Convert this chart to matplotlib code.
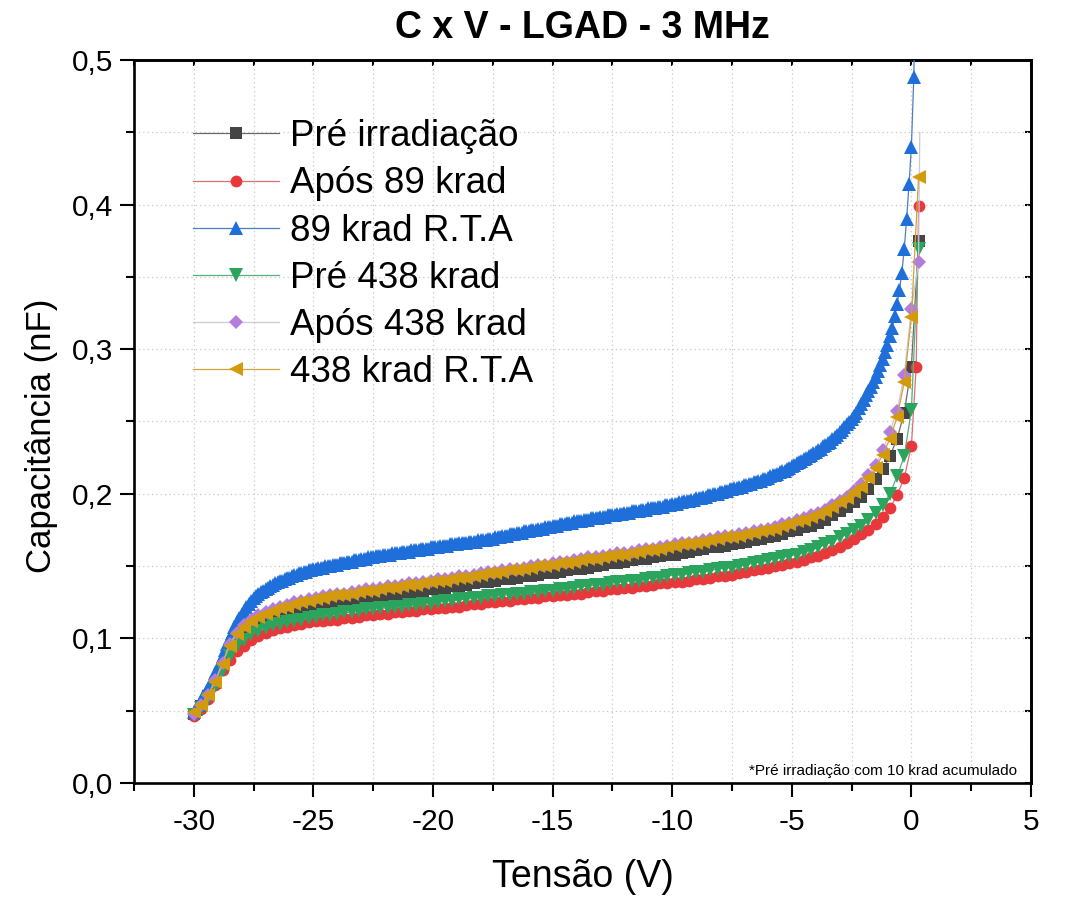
import numpy as np
import matplotlib
matplotlib.use("Agg")
import matplotlib.pyplot as plt
from matplotlib.ticker import MultipleLocator

plt.rcParams['font.family'] = ['Liberation Sans', 'DejaVu Sans']
plt.rcParams['axes.unicode_minus'] = False

# ---------------- data (capacitance in pF, i.e. thousandths of nF) ----------------
# common sweep for most series: -30 V .. 0 V in 0.3 V steps (101 points)
sweep_v = np.linspace(-30.0, 0.0, 101)

pre_irr_pF = [48, 53, 60, 69, 80, 92, 100, 105, 109, 111,
              113, 115, 117, 118, 119, 120, 121, 122, 123, 124,
              125, 125, 126, 127, 128, 128, 129, 130, 130, 131,
              132, 132, 133, 134, 134, 135, 136, 136, 137, 138,
              139, 139, 140, 141, 141, 142, 143, 143, 144, 145,
              145, 146, 147, 148, 148, 149, 150, 151, 152, 152,
              153, 154, 155, 155, 156, 157, 158, 158, 159, 160,
              161, 162, 163, 163, 164, 165, 166, 167, 168, 169,
              170, 171, 172, 174, 175, 177, 178, 180, 182, 185,
              188, 191, 194, 198, 203, 210, 217, 226, 238, 256,
              288, 375]
pre_irr_extra_v = [0.3]

apos89_pF = [46, 51, 58, 68, 78, 85, 91, 95, 99, 102,
             104, 106, 107, 108, 109, 110, 111, 112, 112, 113,
             113, 114, 114, 115, 116, 116, 117, 117, 118, 118,
             119, 119, 120, 120, 121, 121, 122, 122, 123, 124,
             124, 125, 125, 126, 126, 127, 127, 128, 128, 129,
             129, 130, 130, 131, 131, 132, 133, 133, 134, 134,
             135, 135, 136, 136, 137, 138, 138, 139, 139, 140,
             141, 141, 142, 143, 143, 144, 145, 146, 147, 148,
             149, 150, 151, 152, 153, 154, 156, 157, 159, 161,
             163, 166, 169, 172, 175, 179, 184, 190, 199, 211,
             233, 288, 399]
apos89_extra_v = [0.2, 0.3]

pre438_pF = [47, 52, 58, 67, 78, 88, 95, 99, 103, 105,
             107, 109, 110, 111, 112, 113, 114, 115, 116, 116,
             117, 118, 118, 119, 120, 120, 121, 121, 122, 122,
             123, 123, 124, 124, 125, 126, 126, 127, 127, 128,
             128, 129, 129, 130, 130, 131, 131, 132, 132, 133,
             133, 134, 134, 135, 136, 136, 137, 137, 138, 139,
             139, 140, 140, 141, 142, 142, 143, 144, 144, 145,
             146, 146, 147, 148, 149, 149, 150, 151, 152, 153,
             154, 155, 156, 157, 158, 160, 161, 163, 165, 167,
             170, 172, 175, 178, 182, 187, 192, 200, 212, 226,
             258, 369]
pre438_extra_v = [0.3]

apos438_pF = [48, 54, 61, 71, 83, 96, 104, 109, 113, 116,
              118, 120, 122, 123, 125, 126, 127, 128, 129, 130,
              131, 131, 132, 133, 134, 134, 135, 136, 136, 137,
              138, 138, 139, 140, 141, 141, 142, 143, 143, 144,
              145, 146, 146, 147, 148, 148, 149, 150, 151, 151,
              152, 153, 153, 154, 155, 156, 156, 157, 158, 159,
              159, 160, 161, 162, 162, 163, 164, 165, 166, 166,
              167, 168, 169, 170, 171, 171, 172, 173, 174, 175,
              176, 177, 179, 180, 182, 183, 185, 187, 189, 192,
              195, 198, 202, 207, 213, 220, 230, 243, 257, 282,
              328, 360, 450]
apos438_extra_v = [0.3, 0.35]

rta438_pF = [49, 54, 61, 70, 82, 95, 103, 108, 112, 115,
             117, 119, 121, 122, 124, 125, 126, 127, 128, 129,
             130, 130, 131, 132, 133, 133, 134, 135, 135, 136,
             137, 137, 138, 139, 140, 140, 141, 142, 142, 143,
             144, 145, 145, 146, 147, 147, 148, 149, 150, 150,
             151, 152, 152, 153, 154, 155, 155, 156, 157, 158,
             158, 159, 160, 161, 161, 162, 163, 164, 165, 165,
             166, 167, 168, 169, 170, 170, 171, 172, 173, 174,
             175, 176, 178, 179, 181, 182, 184, 186, 188, 191,
             194, 197, 201, 205, 211, 218, 227, 238, 253, 277,
             322, 419]
rta438_extra_v = [0.3]

# 89 krad R.T.A: finer sweep, -30 V .. 0.2 V in 0.1 V steps (303 points)
rta89_v = np.linspace(-30.0, 0.2, 303)
rta89_pF = [49, 51, 54, 57, 60, 63, 66, 69, 72, 76,
            79, 83, 88, 92, 96, 100, 104, 108, 111, 114,
            117, 119, 122, 124, 126, 128, 129, 131, 132, 133,
            134, 135, 136, 137, 138, 139, 140, 140, 141, 142,
            142, 143, 144, 144, 145, 145, 146, 146, 147, 147,
            148, 148, 149, 149, 149, 150, 150, 150, 151, 151,
            151, 152, 152, 152, 153, 153, 153, 154, 154, 154,
            155, 155, 155, 156, 156, 156, 157, 157, 157, 158,
            158, 158, 158, 159, 159, 159, 159, 160, 160, 160,
            160, 161, 161, 161, 161, 162, 162, 162, 162, 163,
            163, 163, 163, 164, 164, 164, 164, 165, 165, 165,
            165, 166, 166, 166, 166, 167, 167, 167, 167, 168,
            168, 168, 168, 169, 169, 169, 170, 170, 170, 171,
            171, 171, 172, 172, 172, 173, 173, 173, 174, 174,
            174, 175, 175, 175, 176, 176, 176, 177, 177, 177,
            178, 178, 178, 179, 179, 179, 180, 180, 180, 181,
            181, 181, 181, 182, 182, 182, 183, 183, 183, 183,
            184, 184, 184, 185, 185, 185, 185, 186, 186, 186,
            187, 187, 187, 188, 188, 188, 188, 189, 189, 189,
            190, 190, 190, 190, 191, 191, 191, 192, 192, 192,
            193, 193, 193, 194, 194, 195, 195, 195, 196, 196,
            197, 197, 197, 198, 198, 199, 199, 200, 200, 200,
            201, 201, 202, 202, 203, 203, 204, 204, 205, 205,
            206, 206, 207, 207, 208, 208, 209, 209, 210, 210,
            211, 212, 213, 213, 214, 215, 216, 216, 217, 218,
            219, 220, 221, 222, 223, 224, 225, 226, 227, 228,
            229, 230, 231, 233, 234, 235, 236, 238, 239, 241,
            243, 244, 246, 248, 250, 252, 254, 256, 259, 262,
            265, 268, 271, 274, 277, 281, 285, 289, 293, 298,
            303, 309, 315, 323, 331, 341, 353, 369, 390, 414,
            440, 488, 580]

series_labels = ['Pré irradiação', 'Após 89 krad', '89 krad R.T.A',
                 'Pré 438 krad', 'Após 438 krad', '438 krad R.T.A']

x_ticks = [-30, -25, -20, -15, -10, -5, 0, 5]
x_tick_labels = ['-30', '-25', '-20', '-15', '-10', '-5', '0', '5']
y_ticks = [0.0, 0.1, 0.2, 0.3, 0.4, 0.5]
y_tick_labels = ['0,0', '0,1', '0,2', '0,3', '0,4', '0,5']

title = 'C x V - LGAD - 3 MHz'
x_label = 'Tensão (V)'
y_label = 'Capacitância (nF)'
note = '*Pré irradiação com 10 krad acumulado'

# ---------------- assemble ----------------
def nf(values):
    return np.asarray(values, dtype=float) / 1000.0

series_v = [
    np.concatenate([sweep_v, pre_irr_extra_v]),
    np.concatenate([sweep_v, apos89_extra_v]),
    rta89_v,
    np.concatenate([sweep_v, pre438_extra_v]),
    np.concatenate([sweep_v, apos438_extra_v]),
    np.concatenate([sweep_v, rta438_extra_v]),
]
series_c = [nf(pre_irr_pF), nf(apos89_pF), nf(rta89_pF),
            nf(pre438_pF), nf(apos438_pF), nf(rta438_pF)]

marker_colors = ['#454545', '#E8383B', '#1F6FDB', '#2BA55E', '#B27DDD', '#D39A0C']
line_colors = ['#6a6a6a', '#d8707a', '#4a7fc0', '#55b07c', '#cfc6d8', '#cfa43a']
markers = ['s', 'o', '^', 'v', 'D', '<']
msizes = [8.0, 8.5, 10.0, 10.0, 7.5, 10.0]

fig = plt.figure(figsize=(10.69, 9.0), dpi=100)
L, R, T, B = 134, 1031, 60, 783
ax = fig.add_axes([L / 1069, 1 - B / 900, (R - L) / 1069, (B - T) / 900])

for i, (v, c) in enumerate(zip(series_v, series_c)):
    n = len(v)
    mev = list(range(n - 1)) if i == 4 else None
    ax.plot(v, c, color=line_colors[i], lw=0.9, marker=markers[i],
            ms=msizes[i], mfc=marker_colors[i], mec=marker_colors[i], mew=0,
            markevery=mev, label=series_labels[i], zorder=3 + i)

ax.set_xlim(-32.5, 5)
ax.set_ylim(0, 0.5)
ax.set_xticks(x_ticks)
ax.set_xticklabels(x_tick_labels)
ax.set_yticks(y_ticks)
ax.set_yticklabels(y_tick_labels)
ax.xaxis.set_minor_locator(MultipleLocator(2.5))
ax.yaxis.set_minor_locator(MultipleLocator(0.05))

ax.grid(which='both', color='#c8c8c8', linestyle=(0, (1, 2.5)), linewidth=0.9, zorder=0)
ax.set_axisbelow(True)

for s in ax.spines.values():
    s.set_linewidth(1.9)
ax.tick_params(which='major', direction='out', length=10, width=1.5,
               labelsize=21.5, pad=8, top=False, right=False)
ax.tick_params(which='minor', direction='out', length=5.5, width=1.5,
               top=False, right=False)
ax.tick_params(axis='y', which='major', pad=5)

# inward ticks on top and right
top = ax.secondary_xaxis('top')
top.set_xticks(x_ticks)
top.xaxis.set_minor_locator(MultipleLocator(2.5))
top.tick_params(which='both', direction='in', length=4.5, width=1.5, labeltop=False)
top.spines['top'].set_linewidth(1.9)
right = ax.secondary_yaxis('right')
right.set_yticks(y_ticks)
right.yaxis.set_minor_locator(MultipleLocator(0.05))
right.tick_params(which='both', direction='in', length=4.5, width=1.5, labelright=False)
right.spines['right'].set_linewidth(1.9)

ax.set_title(title, fontsize=27, fontweight='bold', pad=16)
fig.text(583 / 1069, 1 - 877 / 900, x_label, fontsize=27, ha='center', va='center')
fig.text(42 / 1069, 1 - 436 / 900, y_label, fontsize=25, ha='center', va='center',
         rotation=90)

ax.text(0.984, 0.011, note, transform=ax.transAxes, fontsize=11,
        ha='right', va='baseline', zorder=10)

leg = ax.legend(loc='upper left', bbox_to_anchor=((193 - L) / (R - L), 0.918),
                frameon=False, fontsize=26.5, handlelength=2.35, handletextpad=0.28,
                labelspacing=0.33, borderpad=0, borderaxespad=0, numpoints=1)

fig.savefig('out.png', dpi=100)
